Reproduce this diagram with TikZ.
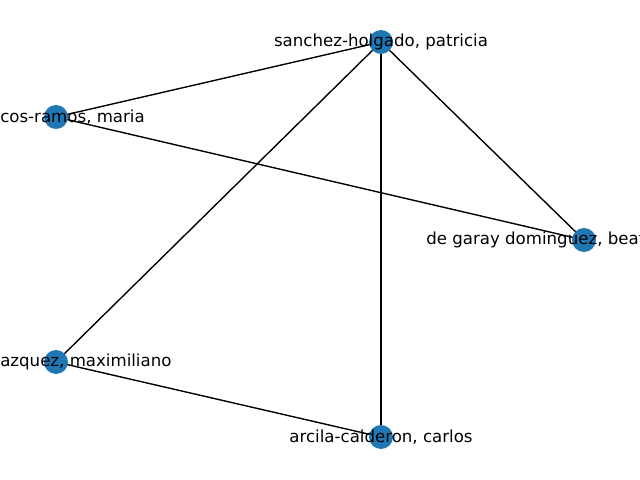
\documentclass[tikz,border=0pt]{standalone}
\usepackage{fontspec}
\setmainfont{DejaVu Sans}
\usepackage{tikz}
\definecolor{nodeblue}{HTML}{1F77B4}

\begin{document}
\begin{tikzpicture}[x=0.01in, y=-0.01in,
  author/.style={circle, fill=nodeblue, minimum size=17.3pt, inner sep=0pt},
  authorname/.style={inner sep=0pt, font=\fontsize{12}{14}\selectfont},
  link/.style={line width=1pt}]
\useasboundingbox (0,0) rectangle (640,480);
\clip (0,0) rectangle (640,480);

\coordinate (sanchez) at (381,42);
\coordinate (marcos) at (56,117);
\coordinate (garay) at (584,240);
\coordinate (vazquez) at (56,362);
\coordinate (arcila) at (381,437);

\foreach \a/\b in {sanchez/marcos, sanchez/garay, sanchez/vazquez, sanchez/arcila, marcos/garay, vazquez/arcila}
\draw[link] (\a) -- (\b);

\foreach \n in {sanchez, marcos, garay, vazquez, arcila}
\node[author] (\n dot) at (\n) {};

\node[authorname] (sanchezname) at (sanchez) {sanchez-holgado, patricia};
\node[authorname, anchor=west] (marcosname) at (0,117) {cos-ramos, maria};
\node[authorname, anchor=west] (garayname) at (426,240) {de garay dominguez, beat};
\node[authorname, anchor=west] (vazquezname) at (0,362) {azquez, maximiliano};
\node[authorname] (arcilaname) at (arcila) {arcila-calderon, carlos};
\end{tikzpicture}
\end{document}
